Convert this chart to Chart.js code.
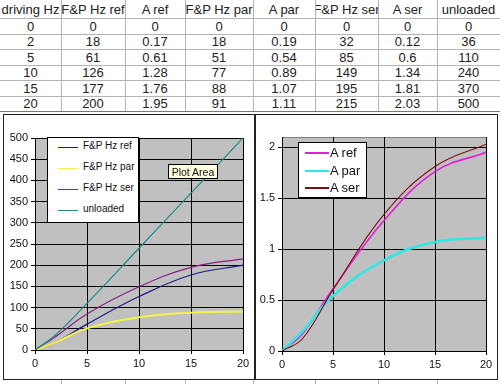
<!DOCTYPE html>
<html><head><meta charset="utf-8">
<script src="https://cdn.jsdelivr.net/npm/chart.js@4.4.0/dist/chart.umd.min.js"></script>
<style>
html,body{margin:0;padding:0;background:#fff;}
body{width:500px;height:384px;position:relative;overflow:hidden;font-family:"Liberation Sans",Arial,sans-serif;}
.cell{position:absolute;display:flex;align-items:center;justify-content:center;white-space:nowrap;overflow:hidden;font-size:13px;color:#222;}
.vl{position:absolute;width:1px;background:#b4b4b4;}
.hl{position:absolute;height:1px;background:#b4b4b4;}
.box{position:absolute;box-sizing:border-box;border:1px solid #222;background:#fff;}
canvas{position:absolute;}
.legend{position:absolute;background:#fff;border:1px solid #000;box-sizing:border-box;}
.li{position:absolute;white-space:nowrap;color:#111;line-height:1;}
.sw{position:absolute;}
.tip{position:absolute;background:#ffffe1;border:1px solid #000;box-sizing:border-box;font-size:10.5px;color:#111;display:flex;align-items:center;justify-content:center;white-space:nowrap;}
</style></head><body>
<div id="table"></div>
<div class="box" style="left:3px;top:114px;width:252px;height:266px"></div>
<div class="box" style="left:255px;top:114px;width:243px;height:266px"></div>
<canvas id="c1" width="250" height="264" style="left:4px;top:115px;width:250px;height:264px"></canvas>
<canvas id="c2" width="241" height="264" style="left:256px;top:115px;width:241px;height:264px"></canvas>
<div id="leg1" class="legend" style="left:47px;top:137px;width:92px;height:86px"></div>
<div id="leg2" class="legend" style="left:298px;top:142px;width:69px;height:56px"></div>
<div class="tip" style="left:168px;top:164px;width:50px;height:15px">Plot Area</div>
<script>
// ---- data ----
const drivingHz = [0, 2, 5, 10, 15, 20];
const fpHzRef   = [0, 18, 61, 126, 177, 200];
const aRef      = [0, 0.17, 0.61, 1.28, 1.76, 1.95];
const fpHzPar   = [0, 18, 51, 77, 88, 91];
const aPar      = [0, 0.19, 0.54, 0.89, 1.07, 1.11];
const fpHzSer   = [0, 32, 85, 149, 195, 215];
const aSer      = [0, 0.12, 0.6, 1.34, 1.81, 2.03];
const unloaded  = [0, 36, 110, 240, 370, 500];
const headers   = ['driving Hz', 'F&P Hz ref', 'A ref', 'F&P Hz par', 'A par', 'F&P Hz ser', 'A ser', 'unloaded'];
const xTicks      = [0, 5, 10, 15, 20];
const yTicksLeft  = [0, 50, 100, 150, 200, 250, 300, 350, 400, 450, 500];
const yTicksRight = [0, 0.5, 1, 1.5, 2];

// ---- spreadsheet table ----
const colEdges = [0, 61, 125, 185, 253, 315, 378, 437, 500];
const rowEdges = [0, 18, 34, 49, 65, 80, 96, 111];
const columns = [drivingHz, fpHzRef, aRef, fpHzPar, aPar, fpHzSer, aSer, unloaded];
const tbl = document.getElementById('table');
function add(cls, style, text) {
  const d = document.createElement('div'); d.className = cls;
  Object.assign(d.style, style); if (text !== undefined) d.textContent = text;
  tbl.appendChild(d); return d;
}
for (let c = 0; c < 8; c++) {
  for (let r = 0; r < 7; r++) {
    const txt = r === 0 ? headers[c] : String(columns[c][r - 1]);
    add('cell', {left: colEdges[c] + 'px', top: rowEdges[r] + 'px',
      width: (colEdges[c + 1] - colEdges[c]) + 'px', height: (rowEdges[r + 1] - rowEdges[r]) + 'px'}, txt);
  }
}
for (let c = 1; c < 8; c++) {
  add('vl', {left: colEdges[c] + 'px', top: '0px', height: '112px'});
  add('vl', {left: colEdges[c] + 'px', top: '380px', height: '4px'});
}
for (let r = 1; r < rowEdges.length; r++) {
  add('hl', {left: '0px', top: rowEdges[r] + 'px', width: '500px', background: r === rowEdges.length - 1 ? '#777' : '#b4b4b4'});
}

// ---- charts ----
const FONT = '"Liberation Sans", Arial, sans-serif';
const plotBg = {
  id: 'plotBg',
  beforeDraw(chart) {
    const {ctx, chartArea: a} = chart;
    ctx.save();
    ctx.fillStyle = '#c0c0c0';
    ctx.fillRect(a.left, a.top, a.right - a.left, a.bottom - a.top);
    ctx.strokeStyle = '#808080'; ctx.lineWidth = 1;
    ctx.strokeRect(Math.round(a.left) + 0.5, Math.round(a.top) + 0.5, Math.round(a.right - a.left), Math.round(a.bottom - a.top));
    ctx.restore();
  }
};
function pts(ys) { return drivingHz.map((x, i) => ({x: x, y: ys[i]})); }
function axis(tickVals, fit, isX, extra) {
  return Object.assign({
    type: 'linear',
    afterBuildTicks: s => { s.ticks = tickVals.map(v => ({value: v})); },
    afterFit: s => { if (isX) s.height = fit; else s.width = fit; },
    grid: {color: '#000', lineWidth: 1, tickLength: 4, tickColor: '#000', drawTicks: true},
    border: {display: true, color: '#000', width: 1},
    ticks: {color: '#111', font: {family: FONT, size: 11}, padding: 3, autoSkip: false, maxRotation: 0,
      callback: v => String(v)}
  }, extra);
}
function makeChart(id, series, yTicks, ymax, yW, xH, pad) {
  return new Chart(document.getElementById(id), {
    type: 'line',
    data: {datasets: series.map((s, i) => ({
      label: s.label, data: pts(s.data), borderColor: s.color, borderWidth: s.width,
      pointRadius: 0, tension: 0.4, fill: false, order: series.length - i
    }))},
    options: {
      responsive: false, animation: false,
      layout: {padding: pad},
      plugins: {legend: {display: false}, tooltip: {enabled: false}},
      scales: {
        x: axis(xTicks, xH, true, {min: 0, max: 20}),
        y: axis(yTicks, yW, false, {min: 0, max: ymax})
      }
    },
    plugins: [plotBg]
  });
}
const leftSeries = [
  {label: 'F&P Hz ref', data: fpHzRef, color: '#1c1c86', width: 1.2},
  {label: 'F&P Hz par', data: fpHzPar, color: '#f2f24a', width: 2},
  {label: 'F&P Hz ser', data: fpHzSer, color: '#8a1e8a', width: 1.2},
  {label: 'unloaded',   data: unloaded, color: '#1f8a8a', width: 1.2}
];
const rightSeries = [
  {label: 'A ref', data: aRef, color: '#e020d8', width: 1.6},
  {label: 'A par', data: aPar, color: '#30e6e6', width: 2.6},
  {label: 'A ser', data: aSer, color: '#7a1010', width: 1.1}
];
makeChart('c1', leftSeries, yTicksLeft, 500, 31, 29, {left: 0, top: 23, right: 11, bottom: 0});
makeChart('c2', rightSeries, yTicksRight, 2.1, 26, 28, {left: 0, top: 22, right: 11, bottom: 0});

function legend(id, series, x0, lineW, textX, tops, fontSize, lw) {
  const box = document.getElementById(id);
  series.forEach((s, i) => {
    const sw = document.createElement('div'); sw.className = 'sw';
    Object.assign(sw.style, {left: x0 + 'px', top: (tops[i] - Math.floor(lw / 2)) + 'px', width: lineW + 'px', height: lw + 'px', background: s.color});
    box.appendChild(sw);
    const t = document.createElement('div'); t.className = 'li';
    Object.assign(t.style, {left: textX + 'px', top: (tops[i] - fontSize / 2 - 1) + 'px', fontSize: fontSize + 'px'});
    t.textContent = s.label; box.appendChild(t);
  });
}
legend('leg1', leftSeries, 10, 20, 35, [9, 30, 51, 72], 10, 1);
legend('leg2', rightSeries, 6, 24, 31, [10, 28, 45], 13, 2);
</script>
</body></html>
